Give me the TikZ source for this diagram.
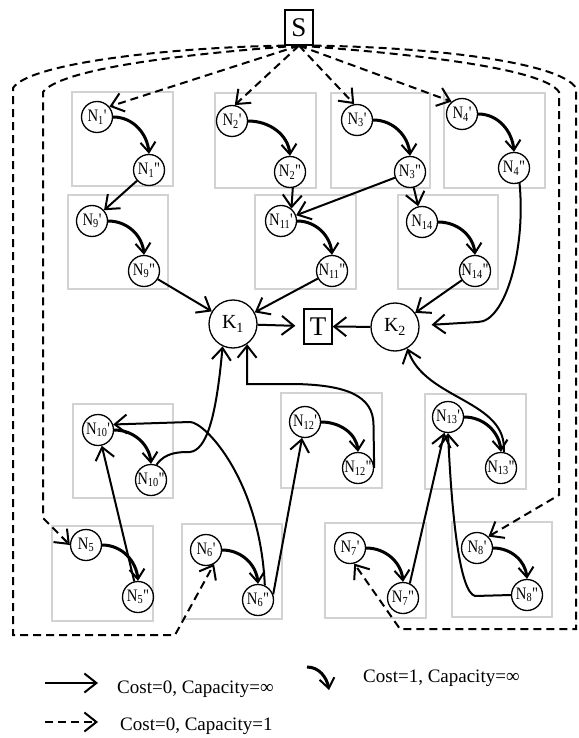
\documentclass[tikz,border=0pt]{standalone}
\usepackage{fontspec}
\setmainfont{Liberation Serif}
\usepackage{graphicx}
\usepackage{tikz}
\usetikzlibrary{arrows.meta}
\tikzset{
  vtx/.style={circle, draw, line width=1.3pt, minimum size=31pt, inner sep=0pt, font=\fontsize{17.5}{17.5}\selectfont},
  hub/.style={circle, draw, line width=1.3pt, minimum size=48pt, inner sep=0pt, font=\fontsize{20}{20}\selectfont},
  term/.style={rectangle, draw, line width=1.3pt, minimum width=28pt, minimum height=35pt, inner sep=0pt, font=\fontsize{27}{27}\selectfont},
  grp/.style={draw=gray!35, line width=1.5pt},
  freearc/.style={-{Straight Barb[length=12pt, width=19pt]}, line width=2pt},
  caparc/.style={freearc, dash pattern=on 8pt off 5pt},
  costarc/.style={-{Straight Barb[length=10pt, width=15pt, line width=2pt]}, line width=3pt},
  leg/.style={anchor=base west, font=\fontsize{19}{19}\selectfont, inner sep=0pt}
}
% narrow labels so that they stay inside the circles
\newcommand{\Nlbl}[1]{\makebox[16pt]{\scalebox{0.84}[1]{#1}}}
\newcommand{\Na}[1]{\Nlbl{N\textsubscript{#1}\textquotesingle}}
\newcommand{\Nb}[1]{\Nlbl{N\textsubscript{#1}\textquotedbl}}

\begin{document}
\begin{tikzpicture}[x=1pt, y=1pt]
\useasboundingbox (0,0) rectangle (578,-738);
% grey group frames
\foreach \x/\y/\xx/\yy in {72/92/173/186, 215/93/316/188, 331/93/430/188, 444/93/545/188,
    68/195/168/289, 255/195/356/289, 398/195/498/289,
    73/404/173/498, 281/393/382/488, 425/394/526/489,
    52/526/153/621, 182/524/282/619, 325/523/426/618, 452/522/552/617}
  \draw[grp] (\x,-\y) rectangle (\xx,-\yy);
% source, sink and collectors
\node[term] (S) at (299,-27.5) {S};
\node[term] (T) at (318,-326.5) {T};
\node[hub] (K1) at (233,-324) {K\textsubscript{1}};
\node[hub] (K2) at (395,-327) {K\textsubscript{2}};
% split nodes
\node[vtx] (a1) at (97,-117) {\Na{1}};
\node[vtx] (b1) at (149,-170) {\Nb{1}};
\node[vtx] (a2) at (232,-121) {\Na{2}};
\node[vtx] (b2) at (290,-172) {\Nb{2}};
\node[vtx] (a3) at (357,-120) {\Na{3}};
\node[vtx] (b3) at (410,-172) {\Nb{3}};
\node[vtx] (a4) at (462,-114) {\Na{4}};
\node[vtx] (b4) at (514,-168) {\Nb{4}};
\node[vtx] (a9) at (92,-221) {\Na{9}};
\node[vtx] (b9) at (144,-271) {\Nb{9}};
\node[vtx] (a11) at (281,-221) {\Na{11}};
\node[vtx] (b11) at (332,-271) {\Nb{11}};
\node[vtx] (a14) at (422,-222) {\Nlbl{N\textsubscript{14}}};
\node[vtx] (b14) at (475,-271) {\Nb{14}};
\node[vtx] (a10) at (98,-430) {\Na{10}};
\node[vtx] (b10) at (151,-480) {\Nb{10}};
\node[vtx] (a12) at (305,-422) {\Na{12}};
\node[vtx] (b12) at (358,-468) {\Nb{12}};
\node[vtx] (a13) at (448,-417) {\Na{13}};
\node[vtx] (b13) at (501,-468) {\Nb{13}};
\node[vtx] (a5) at (86,-545) {\Nlbl{N\textsubscript{5}}};
\node[vtx] (b5) at (138,-597) {\Nb{5}};
\node[vtx] (a6) at (206,-550) {\Na{6}};
\node[vtx] (b6) at (258,-600) {\Nb{6}};
\node[vtx] (a7) at (350,-548) {\Na{7}};
\node[vtx] (b7) at (403,-598) {\Nb{7}};
\node[vtx] (a8) at (477,-548) {\Na{8}};
\node[vtx] (b8) at (527,-595) {\Nb{8}};
% cost 1 arcs inside each group
\foreach \i in {1,2,3,4,9,11,14,10,12,13,5,6,7,8}
  \draw[costarc] (a\i.east) to[out=0, in=95] (b\i.north);
% upper half
\draw[freearc] (b1) -- (a9);
\draw[freearc] (b2.-80) -- (a11.50);
\draw[freearc] (b3) -- (a11);
\draw[freearc] (b3) -- (a14);
\draw[freearc, shorten >=12pt] (b4.-70) .. controls (526,-250) and (505,-322) .. (478,-322) -- (K2);
\draw[freearc] (b9) -- (K1);
\draw[freearc] (b11) -- (K1);
\draw[freearc] (b14) -- (K2);
\draw[freearc, shorten >=8pt] (K1) -- (T);
\draw[freearc] (K2) -- (T);
% lower half
\draw[freearc] (b10.70) .. controls (165,-452) and (180,-452) .. (190,-452)
  .. controls (206,-450) and (216,-420) .. (K1.-115);
\draw[freearc] (b12.east) -- (373.5,-425) .. controls (373.5,-395) and (345,-385) .. (295,-384)
  -- (247,-384) -- (K1.-55);
\draw[freearc] (b6.65) .. controls (260,-480) and (205,-422) .. (190,-422) -- (a10.20);
\draw[freearc] (b6.20) -- (a12);
\draw[freearc] (b5) -- (a10);
\draw[freearc] (b7.65) -- (a13);
\draw[freearc] (b8.west) -- (475,-596) .. controls (460,-592) and (452,-520) .. (a13.south);
\draw[freearc] (b13.80) .. controls (508,-400) and (425,-400) .. (K2.-60);
% capacity 1 arcs out of S
\draw[caparc] (S.south) -- (a1.40);
\draw[caparc] (S.south) -- (a2.80);
\draw[caparc] (S.south) -- (a3.100);
\draw[caparc] (S.south) -- (a4.130);
\draw[caparc] (S.south west) .. controls (180,-47) and (30,-62) .. (13,-88)
  -- (13,-635) -- (175,-635) -- (a6.-60);
\draw[caparc] (S.south) .. controls (170,-55) and (60,-70) .. (43,-92)
  -- (43,-518) -- (a5.west);
\draw[caparc] (S.south east) .. controls (430,-47) and (560,-62) .. (576,-88)
  -- (576,-629) -- (400,-629) -- (a7.-75);
\draw[caparc] (S.south) .. controls (430,-55) and (545,-70) .. (559,-92)
  -- (559,-495) -- (a8.45);
% legend
\coordinate (f0) at (45,-683);
\coordinate (f1) at (98,-683);
\draw[freearc] (f0) -- (f1);
\node[leg] (t0) at (117,-693) {Cost=0, Capacity=∞};
\coordinate (c0) at (307,-667);
\coordinate (c1) at (329,-690);
\draw[costarc] (c0) to[out=0, in=100] (c1);
\node[leg] (t1) at (363,-682) {Cost=1, Capacity=∞};
\coordinate (d0) at (45,-722);
\coordinate (d1) at (98,-722);
\draw[caparc] (d0) -- (d1);
\node[leg] (t2) at (120,-730) {Cost=0, Capacity=1};
\end{tikzpicture}
\end{document}
